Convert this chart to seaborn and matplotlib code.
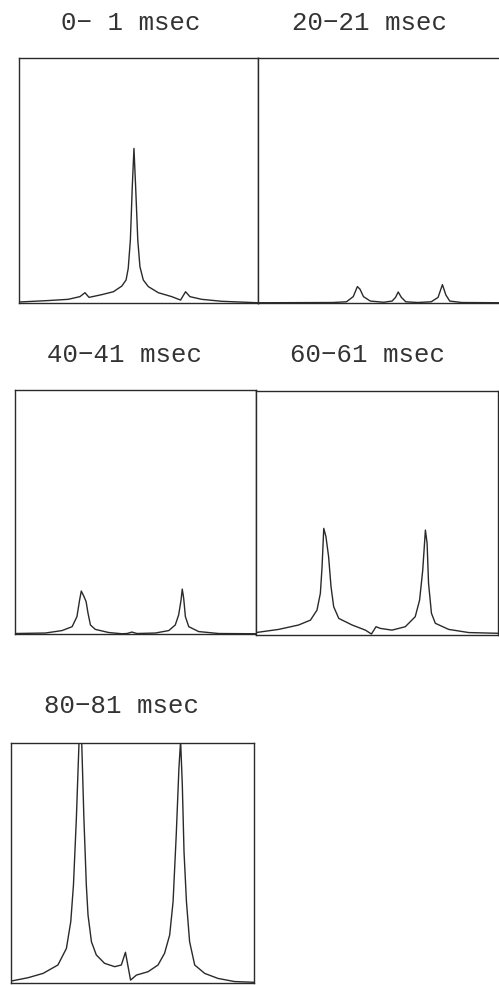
import matplotlib
matplotlib.use("Agg")
import matplotlib.pyplot as plt
import seaborn as sns
import pandas as pd

# Spectral traces for five 1-ms time windows (x and y in percent of panel range)
titles = ["0\u2212 1 msec", "20\u221221 msec", "40\u221241 msec", "60\u221261 msec", "80\u221281 msec"]

x_0_1 = [0, 12.3, 20.6, 25.5, 27.6, 29.3, 34.6, 39.5, 43.0, 44.8, 45.7, 46.6, 47.4, 48.1,
         48.8, 49.7, 50.6, 52.0, 54.1, 58.3, 63.9, 67.6, 69.7, 71.5, 76.4, 84.8, 100]
y_0_1 = [0.4, 1.0, 1.5, 2.6, 4.2, 2.3, 3.4, 4.6, 6.9, 9.4, 14.1, 25.7, 47.5, 63.1,
         47.5, 25.7, 14.8, 9.4, 6.7, 4.2, 2.6, 1.2, 4.6, 2.6, 1.5, 0.7, 0.1]

x_20_21 = [0, 30.8, 36.4, 39.2, 40.9, 42.0, 43.4, 46.2, 51.7, 55.2, 56.6, 57.7, 59.0,
           60.8, 65.7, 71.3, 74.1, 75.9, 77.3, 78.9, 83.8, 100]
y_20_21 = [0.1, 0.2, 0.5, 2.6, 6.7, 5.6, 2.6, 0.8, 0.3, 0.8, 2.3, 4.5, 2.3,
           0.5, 0.2, 0.5, 2.3, 7.5, 3.3, 0.8, 0.2, 0.1]

x_40_41 = [0, 12.6, 19.5, 23.7, 25.7, 26.8, 27.5, 28.5, 29.5, 30.3, 31.3, 33.3, 38.9, 44.4,
           46.5, 48.5, 50.6, 58.2, 63.8, 66.5, 67.9, 68.9, 69.4, 70.0, 70.7, 72.1, 76.2, 84.5, 100]
y_40_41 = [0.2, 0.4, 1.4, 3.0, 7.1, 13.9, 17.6, 15.6, 13.3, 8.5, 3.7, 1.9, 0.6, 0.1,
           0.2, 0.8, 0.2, 0.4, 1.4, 3.7, 7.8, 13.9, 18.4, 14.6, 7.1, 3.0, 1.0, 0.2, 0.1]

x_60_61 = [0, 9.4, 17.6, 22.5, 25.2, 26.6, 27.3, 28.0, 28.9, 30.0, 31.0, 32.1, 34.2, 39.7,
           45.2, 47.7, 49.6, 51.4, 56.2, 61.7, 65.8, 67.6, 68.9, 70.0, 70.7, 71.3, 72.5,
           74.1, 79.6, 87.9, 100]
y_60_61 = [1.0, 2.3, 4.1, 6.1, 10.2, 17.1, 28.0, 43.7, 40.3, 32.1, 19.8, 11.6, 6.8, 4.1,
           2.0, 0.4, 3.4, 2.7, 2.0, 3.4, 7.5, 14.3, 26.6, 43.0, 37.6, 21.2, 8.9,
           4.8, 2.3, 1.0, 0.7]

x_80_81 = [0, 7.0, 13.2, 19.3, 22.8, 24.6, 25.7, 26.9, 28.6, 30.0, 31.0, 31.7, 33.1, 35.1,
           38.5, 42.7, 45.4, 47.1, 49.2, 51.6, 56.4, 60.5, 63.2, 65.3, 66.7, 68.0, 69.1,
           69.8, 70.5, 71.2, 72.2, 73.5, 75.6, 79.7, 85.2, 92.0, 100]
y_80_81 = [0.8, 2.2, 4.0, 7.5, 14.4, 25.6, 40.8, 68.6, 118.0, 68.6, 40.8, 28.3, 17.2, 11.7,
           8.2, 6.8, 7.5, 12.8, 1.2, 3.3, 4.7, 7.5, 12.4, 20.0, 33.9, 61.7, 89.4,
           101.0, 82.5, 54.7, 33.9, 17.2, 7.5, 4.0, 1.9, 0.6, 0.3]

series = [(x_0_1, y_0_1), (x_20_21, y_20_21), (x_40_41, y_40_41),
          (x_60_61, y_60_61), (x_80_81, y_80_81)]

sns.set_theme(style="white")
plt.rcParams["font.family"] = ["Liberation Mono", "DejaVu Sans Mono"]

W, H = 499, 985
fig = plt.figure(figsize=(W / 100, H / 100), dpi=100)
fig.patch.set_facecolor("white")

# panel boxes in pixels: left, top, right, bottom
boxes = [(19, 58, 258, 303), (258, 58, 501, 303),
         (15, 390, 256, 634), (256, 391, 498, 635),
         (11, 743, 254, 983)]
# title centres in pixels
title_pos = [(131, 23), (370, 23), (125, 355), (367, 355), (122, 706)]

ink = "#2a2a2a"
for (xs, ys), (l, t, r, b), title, (tx, ty) in zip(series, boxes, titles, title_pos):
    ax = fig.add_axes([l / W, 1 - b / H, (r - l) / W, (b - t) / H])
    df = pd.DataFrame({"x": xs, "y": ys})
    sns.lineplot(data=df, x="x", y="y", ax=ax, color=ink, lw=1.0, sort=False,
                 estimator=None)
    ax.set_xlim(0, 100)
    ax.set_ylim(0, 100)
    ax.set_xticks([])
    ax.set_yticks([])
    ax.set_xlabel("")
    ax.set_ylabel("")
    for sp in ax.spines.values():
        sp.set_visible(True)
        sp.set_color(ink)
        sp.set_linewidth(1.0)
    fig.text(tx / W, 1 - ty / H, title, ha="center", va="center",
             fontsize=18.5, color="#333333")

fig.savefig("out.png", dpi=100, facecolor="white")
